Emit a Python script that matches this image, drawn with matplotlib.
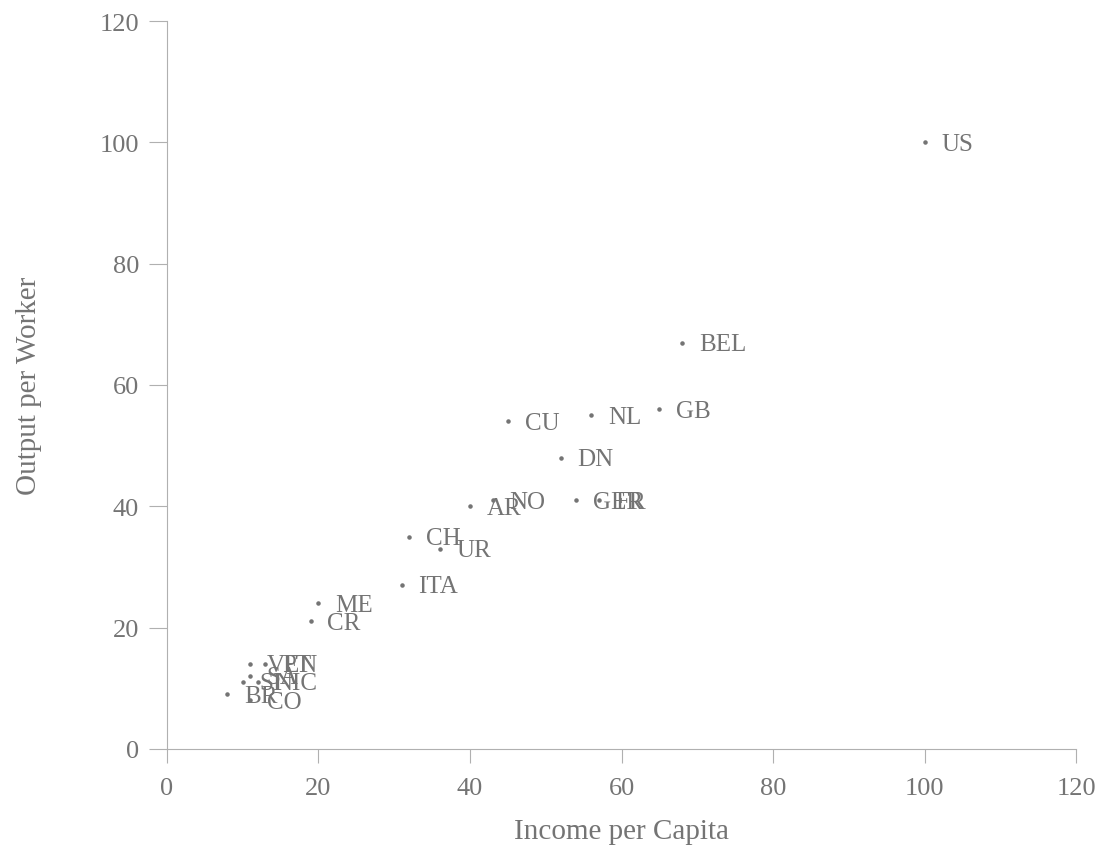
import matplotlib.pyplot as plt

# countries, income per capita (x) and output per worker (y)
countries = ["US", "BEL", "GB", "NL", "CU", "DN", "GER", "FR", "NO", "AR",
             "CH", "UR", "ITA", "ME", "CR", "VEN", "PT", "SA", "SI", "NIC",
             "BR", "CO"]
income = [100, 68, 65, 56, 45, 52, 54, 57, 43, 40,
          32, 36, 31, 20, 19, 11, 13, 11, 10, 12,
          8, 11]
output = [100, 67, 56, 55, 54, 48, 41, 41, 41, 40,
          35, 33, 27, 24, 21, 14, 14, 12, 11, 11,
          9, 8]

grey = "#747474"
plt.rcParams["font.family"] = ["Liberation Serif", "DejaVu Serif"]

fig = plt.figure(figsize=(11.04, 8.53), dpi=100)
ax = fig.add_axes([0.151, 0.121, 0.824, 0.853])

ax.scatter(income, output, s=5, color=grey, zorder=3)
for name, x, y in zip(countries, income, output):
    ax.annotate(name, (x, y), xytext=(12, -1), textcoords="offset points",
                va="center", ha="left", fontsize=18, color=grey)

ax.set_xlim(0, 120)
ax.set_ylim(0, 120)
ax.set_xticks(range(0, 121, 20))
ax.set_yticks(range(0, 121, 20))
ax.set_xlabel("Income per Capita", fontsize=21, color=grey, labelpad=14)
ax.set_ylabel("Output per Worker", fontsize=21, color=grey, labelpad=41)

for side in ["top", "right"]:
    ax.spines[side].set_visible(False)
for side in ["left", "bottom"]:
    ax.spines[side].set_color("#b0b0b0")
ax.tick_params(colors="#b0b0b0", labelcolor=grey, labelsize=19)
ax.tick_params(axis="x", length=10, pad=10)
ax.tick_params(axis="y", length=13, pad=7)

fig.savefig("out.png", dpi=100)
